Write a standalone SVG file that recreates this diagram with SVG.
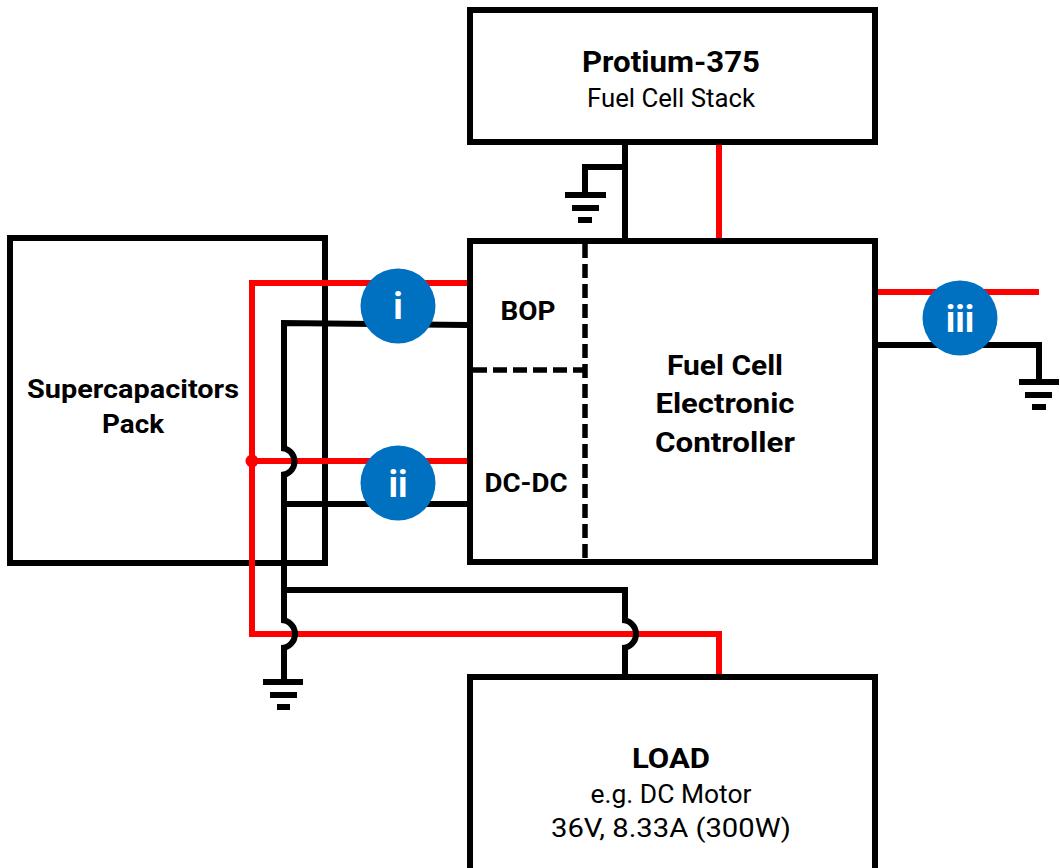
<svg xmlns="http://www.w3.org/2000/svg" width="1060" height="868" viewBox="0 0 1060 868">
<style>
.box{fill:#fff;stroke:#000;stroke-width:6}
.red{fill:none;stroke:#f00;stroke-width:6}
.blk{fill:none;stroke:#000;stroke-width:6}
.dash{fill:none;stroke:#000;stroke-width:5.5;stroke-dasharray:14 6}
.b{font-family:"Roboto","Liberation Sans",sans-serif;font-weight:700;fill:#000;text-anchor:middle}
.r{font-family:"Roboto","Liberation Sans",sans-serif;font-weight:400;fill:#000;text-anchor:middle}
.c{fill:#0070c0}
.n{font-family:"Roboto","Liberation Sans",sans-serif;font-weight:700;font-size:36px;fill:#fff;text-anchor:middle}
</style>
<rect width="1060" height="868" fill="#fff"/>
<g id="supercapacitors"><rect class="box" x="10" y="238" width="315" height="325"/>
<text class="b" x="133" y="398" font-size="25" textLength="212" lengthAdjust="spacingAndGlyphs">Supercapacitors</text>
<text class="b" x="133" y="433" font-size="25" textLength="62" lengthAdjust="spacingAndGlyphs">Pack</text></g>
<g id="protium"><rect class="box" x="470" y="10" width="405" height="132"/>
<text class="b" x="671" y="72" font-size="30" textLength="178" lengthAdjust="spacingAndGlyphs">Protium-375</text>
<text class="r" x="671" y="107" font-size="25" textLength="168" lengthAdjust="spacingAndGlyphs">Fuel Cell Stack</text></g>
<g id="controller"><rect class="box" x="470" y="241" width="405" height="321"/>
<text class="b" x="528" y="320" font-size="25" textLength="55" lengthAdjust="spacingAndGlyphs">BOP</text>
<text class="b" x="526" y="492" font-size="25" textLength="83" lengthAdjust="spacingAndGlyphs">DC-DC</text>
<text class="b" x="725" y="375" font-size="27" textLength="116" lengthAdjust="spacingAndGlyphs">Fuel Cell</text>
<text class="b" x="725" y="413" font-size="27" textLength="139" lengthAdjust="spacingAndGlyphs">Electronic</text>
<text class="b" x="725" y="452" font-size="27" textLength="140" lengthAdjust="spacingAndGlyphs">Controller</text></g>
<g id="load"><rect class="box" x="470" y="677" width="405" height="200"/>
<text class="b" x="671" y="768" font-size="28" textLength="78" lengthAdjust="spacingAndGlyphs">LOAD</text>
<text class="r" x="671" y="803" font-size="25" textLength="161" lengthAdjust="spacingAndGlyphs">e.g. DC Motor</text>
<text class="r" x="671" y="837" font-size="25" textLength="240" lengthAdjust="spacingAndGlyphs">36V, 8.33A (300W)</text></g>
<g id="connectors">
<path class="dash" d="M585 244V559M473 370H585"/>
<path class="red" d="M719 145V238"/>
<path class="red" d="M467 283H252V634H719V674"/>
<path class="red" d="M252 461H467"/>
<path class="red" d="M878 292H1039"/>
<circle cx="252" cy="461" r="6.5" fill="#f00"/>
<path class="blk" d="M625 145V238M625 167H585V195"/>
<path class="blk" d="M467 325L284 323V448M281 448A13.5 13.5 0 0 1 281 475M284 475V620M281 620A14 14 0 0 1 281 648M284 648V682"/>
<path class="blk" d="M284 504H467"/>
<path class="blk" d="M284 590H625V620M622 620A14 14 0 0 1 622 648M625 648V674"/>
<path class="blk" d="M878 345H1039V382"/>
<path d="M565 192h41v6h-41zM572 205h27v6h-27zM578 217h14v6h-14z"/>
<path d="M263 679h40v6h-40zM270 692h27v6h-27zM277 704h13v6h-13z"/>
<path d="M1019 379h40v6h-40zM1025 392h27v6h-27zM1032 404h14v6h-14z"/>
</g>
<g id="badge-i"><circle class="c" cx="398" cy="306" r="37.5"/><text class="n" x="398" y="319">i</text></g>
<g id="badge-ii"><circle class="c" cx="398" cy="483" r="37.5"/><text class="n" x="398" y="497">ii</text></g>
<g id="badge-iii"><circle class="c" cx="960" cy="318" r="37.5"/><text class="n" x="960" y="332">iii</text></g>
</svg>
